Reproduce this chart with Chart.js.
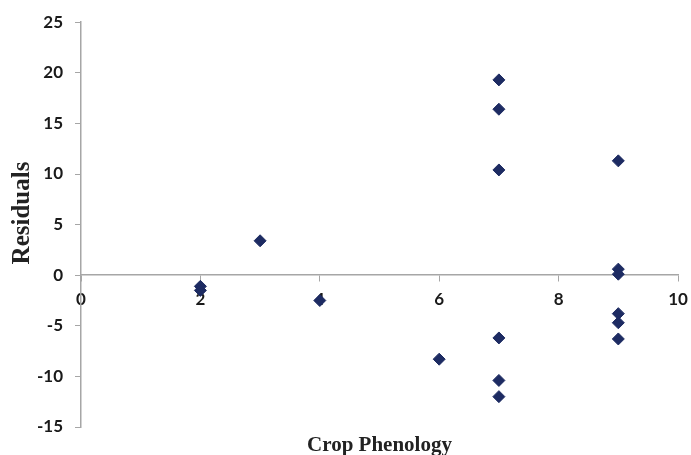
<!DOCTYPE html>
<html>
<head>
<meta charset="utf-8">
<script src="https://cdn.jsdelivr.net/npm/chart.js@4"></script>
<style>
  html, body { margin: 0; padding: 0; background: #fff; }
  #wrap { width: 691px; height: 455px; }
</style>
</head>
<body>
<div id="wrap"><canvas id="residualChart" width="691" height="455"></canvas></div>
<script>
// crop phenology stage vs. residual
const phenology = [2, 2, 3, 4, 6, 7, 7, 7, 7, 7, 7, 9, 9, 9, 9, 9, 9];
const residuals = [-1.1, -1.5, 3.4, -2.5, -8.3, 19.3, 16.4, 10.4, -6.2, -10.4, -12.0, 11.3, 0.6, 0.1, -3.8, -4.7, -6.3];
const xTicks = [0, 2, 4, 6, 8, 10];
const yTicks = [-15, -10, -5, 0, 5, 10, 15, 20, 25];
const xTitle = 'Crop Phenology';
const yTitle = 'Residuals';

const axisGrey = '#a6a6a6';
const tickFont = { family: 'Lato', size: 17, weight: 'bold' };

const axisTitles = {
    id: 'axisTitles',
    afterDraw(chart) {
        const ctx = chart.ctx;
        const area = chart.chartArea;
        ctx.save();
        ctx.fillStyle = '#222';
        ctx.font = 'bold 21px "Liberation Serif"';
        ctx.textAlign = 'center';
        ctx.textBaseline = 'alphabetic';
        ctx.fillText(xTitle, (area.left + area.right) / 2, 451);
        ctx.translate(29, 213);
        ctx.rotate(-Math.PI / 2);
        ctx.font = 'bold 25px "Liberation Serif"';
        ctx.fillText(yTitle, 0, 0);
        ctx.restore();
    }
};

new Chart(document.getElementById('residualChart').getContext('2d'), {
    type: 'scatter',
    data: {
        datasets: [{
            label: yTitle,
            data: phenology.map((x, i) => ({ x: x, y: residuals[i] })),
            pointStyle: 'rectRot',
            pointRadius: 6,
            backgroundColor: '#1d2b62',
            borderColor: '#1d2b62',
            borderWidth: 1
        }]
    },
    options: {
        responsive: false,
        animation: false,
        layout: { padding: { top: 22, right: 13, bottom: 28, left: 0 } },
        plugins: {
            legend: { display: false },
            tooltip: { enabled: false }
        },
        scales: {
            x: {
                type: 'linear',
                position: { y: 0 },
                min: 0,
                max: 10,
                afterBuildTicks: axis => { axis.ticks = xTicks.map(v => ({ value: v })); },
                afterFit: axis => { axis.paddingLeft = 0; axis.paddingRight = 0; },
                grid: { drawOnChartArea: false, tickLength: 6, color: axisGrey },
                border: { color: axisGrey, width: 1.5 },
                ticks: { color: '#1a1a1a', font: tickFont, padding: 8, maxRotation: 0 }
            },
            y: {
                type: 'linear',
                min: -15,
                max: 25,
                afterBuildTicks: axis => { axis.ticks = yTicks.map(v => ({ value: v })); },
                afterFit: axis => { axis.width = 81; },
                grid: { drawOnChartArea: false, tickLength: 6, color: axisGrey },
                border: { color: axisGrey, width: 1.5 },
                ticks: { color: '#1a1a1a', font: tickFont, padding: 12 }
            }
        }
    },
    plugins: [axisTitles]
});
</script>
</body>
</html>
